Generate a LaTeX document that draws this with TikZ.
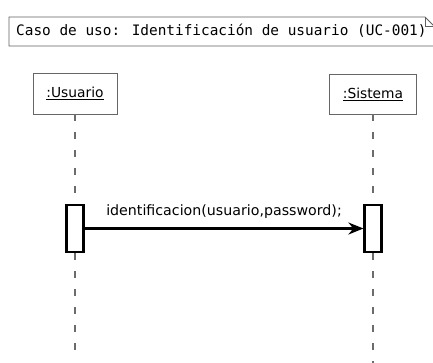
\documentclass[tikz,border=0pt]{standalone}
\usepackage{fontspec}
\setmainfont{DejaVu Sans}
\newfontfamily\monofnt{DejaVu Sans Mono}
\usetikzlibrary{arrows.meta}
\begin{document}
\begin{tikzpicture}[x=1pt,y=-1pt,
  objbox/.style={draw=gray!80!black, line width=0.9pt, fill=white, inner sep=0pt, font=\fontsize{13.8}{16}\selectfont},
  actbox/.style={draw=black, line width=2.2pt, fill=white, minimum width=17pt, minimum height=47pt, inner sep=0pt},
  lifeline/.style={draw=gray!85!black, line width=1.6pt, dash pattern=on 7pt off 11pt},
  msg/.style={draw=black, line width=2.2pt, -{Stealth[length=15pt,width=12pt]}},
  notebox/.style={draw=gray!75!black, line width=0.9pt}
]
\useasboundingbox (0,0) rectangle (433,362);
% note
\draw[notebox] (9,17) -- (425,17) -- (434,26) -- (434,46) -- (9,46) -- cycle;
\draw[notebox] (425,17) -- (425,26) -- (434,26);
\node[anchor=west, inner sep=0pt, font=\monofnt\fontsize{14.4}{16}\selectfont] (title) at (16,31) {Caso de uso: Identificación de usuario (UC-001)};
% objects
\node[objbox, minimum width=84pt, minimum height=41pt] (usr) at (75,93.5) {\underline{:Usuario}};
\node[objbox, minimum width=87pt, minimum height=40pt] (sys) at (373,94) {\underline{:Sistema}};
% activations
\node[actbox] (actU) at (75,228.5) {};
\node[actbox] (actS) at (373,228.5) {};
\coordinate (endU) at (75,352);
\coordinate (endS) at (373,364);
% lifelines
\draw[lifeline] (usr.south) -- (actU.north);
\draw[lifeline] (actU.south) -- (endU);
\draw[lifeline] (sys.south) -- (actS.north);
\draw[lifeline] (actS.south) -- (endS);
\node[actbox] at (actU) {};
\node[actbox] at (actS) {};
% message
\draw[msg] (actU.east) -- node[above=6pt, font=\fontsize{14.2}{16}\selectfont] (lbl) {identificacion(usuario,password);} (actS.west);
\end{tikzpicture}
\end{document}
